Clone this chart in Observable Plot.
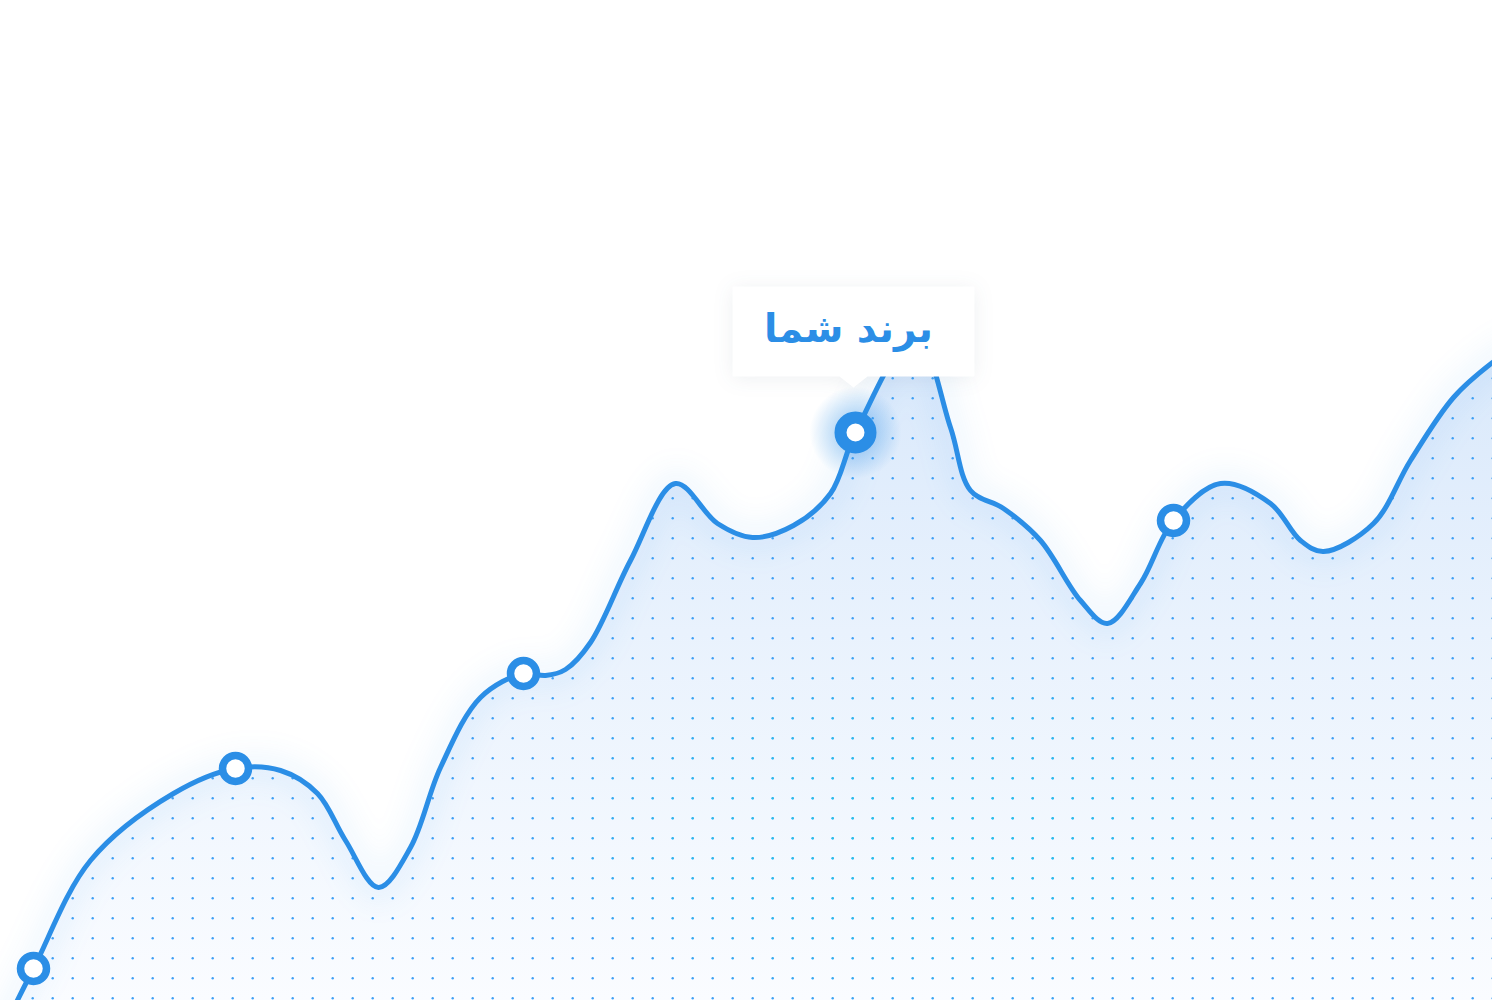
<!DOCTYPE html>
<html>
<head>
<meta charset="utf-8">
<script src="https://cdn.jsdelivr.net/npm/d3@7"></script>
<script src="https://cdn.jsdelivr.net/npm/@observablehq/plot@0.6"></script>
<style>
html, body { margin: 0; padding: 0; background: #ffffff; overflow: hidden; }
#chart svg { display: block; }
</style>
</head>
<body>
<div id="chart"></div>
<script>
// ---- data (x position, height value) ----
const curveX = [2, 33, 90, 173, 235, 280, 317, 345, 378, 410, 440, 480, 523, 545, 565, 590, 630, 675, 717, 752, 793, 830, 855, 915, 950, 970, 1003, 1040, 1080, 1107, 1140, 1173, 1220, 1270, 1300, 1323, 1373, 1410, 1453, 1492, 1510];
const curveY = [-30, 32, 140, 207, 232, 230, 207, 160, 113, 153, 233, 303, 327, 325, 331, 358, 440, 517, 477, 463, 475, 507, 568, 665, 573, 510, 492, 460, 400, 377, 417, 480, 517, 497, 460, 449, 477, 540, 603, 638, 650];
const markerX = [33, 235, 523, 1173];
const markerY = [32, 232, 327, 480];
const highlightX = [855];
const highlightY = [568];
const highlightLabel = ["برند شما"];

const BLUE = "#2b8ee6";

const curve = curveX.map((x, i) => ({x, y: curveY[i]}));
const markers = markerX.map((x, i) => ({x, y: markerY[i]}));
const highlight = highlightX.map((x, i) => ({x, y: highlightY[i], label: highlightLabel[i]}));

// callout box shape drawn relative to the highlighted point
const callout = {
  draw(ctx) {
    ctx.moveTo(-123, -146);
    ctx.lineTo(119, -146);
    ctx.lineTo(119, -56);
    ctx.lineTo(12, -56);
    ctx.lineTo(-2, -45);
    ctx.lineTo(-16, -56);
    ctx.lineTo(-123, -56);
    ctx.closePath();
  }
};

const chart = Plot.plot({
  width: 1492,
  height: 1000,
  margin: 0,
  x: {domain: [0, 1492], axis: null},
  y: {domain: [0, 1000], axis: null},
  style: {background: "#ffffff"},
  marks: [
    Plot.areaY(curve, {x: "x", y: "y", curve: "catmull-rom", fill: "url(#areaGrad)"}),
    Plot.areaY(curve, {x: "x", y: "y", curve: "catmull-rom", fill: "url(#dotsBlue)"}),
    Plot.areaY(curve, {x: "x", y: "y", curve: "catmull-rom", fill: "url(#dotsCyan)"}),
    Plot.line(curve, {x: "x", y: "y", curve: "catmull-rom", stroke: BLUE, strokeWidth: 34, strokeOpacity: 0.055}),
    Plot.line(curve, {x: "x", y: "y", curve: "catmull-rom", stroke: BLUE, strokeWidth: 5}),
    Plot.dot(markers, {x: "x", y: "y", r: 13, fill: "white", stroke: BLUE, strokeWidth: 7.5}),
    Plot.dot(highlight, {x: "x", y: "y", r: 46, fill: "url(#glowGrad)"}),
    Plot.dot(highlight, {x: "x", y: "y", r: 15, fill: "white", stroke: BLUE, strokeWidth: 12}),
    Plot.dot(highlight, {x: "x", y: "y", symbol: callout, fill: "white", stroke: "none"}),
    Plot.text(highlight, {x: "x", y: "y", text: "label", dy: -103, dx: -7, fontSize: 39, fontWeight: "bold", fill: BLUE, fontFamily: "DejaVu Sans"})
  ]
});

document.getElementById("chart").appendChild(chart);

// ---- defs: gradients & dot patterns ----
const svg = d3.select(chart);
const defs = svg.insert("defs", ":first-child");

const ag = defs.append("linearGradient").attr("id", "areaGrad")
  .attr("gradientUnits", "userSpaceOnUse").attr("x1", 0).attr("y1", 330).attr("x2", 0).attr("y2", 1000);
ag.append("stop").attr("offset", 0).attr("stop-color", "#d8e8fb");
ag.append("stop").attr("offset", 0.45).attr("stop-color", "#e9f2fd");
ag.append("stop").attr("offset", 1).attr("stop-color", "#fafcff");

const gg = defs.append("radialGradient").attr("id", "glowGrad");
gg.append("stop").attr("offset", 0).attr("stop-color", BLUE).attr("stop-opacity", 0.6);
gg.append("stop").attr("offset", 0.45).attr("stop-color", BLUE).attr("stop-opacity", 0.28);
gg.append("stop").attr("offset", 1).attr("stop-color", BLUE).attr("stop-opacity", 0);

function dotPattern(id, color) {
  const p = defs.append("pattern").attr("id", id)
    .attr("patternUnits", "userSpaceOnUse").attr("width", 20).attr("height", 20);
  p.append("circle").attr("cx", 12.7).attr("cy", 18.3).attr("r", 1.2).attr("fill", color);
}
dotPattern("dotsBlue", "#3f9ff5");
dotPattern("dotsCyan", "#22c6e8");

const mg = defs.append("radialGradient").attr("id", "cyanMaskGrad")
  .attr("gradientUnits", "userSpaceOnUse").attr("cx", 930).attr("cy", 830).attr("r", 420)
  .attr("gradientTransform", "translate(930 830) scale(1 0.45) translate(-930 -830)");
mg.append("stop").attr("offset", 0).attr("stop-color", "white").attr("stop-opacity", 1);
mg.append("stop").attr("offset", 0.6).attr("stop-color", "white").attr("stop-opacity", 0.6);
mg.append("stop").attr("offset", 1).attr("stop-color", "white").attr("stop-opacity", 0);
const mask = defs.append("mask").attr("id", "cyanMask").attr("maskUnits", "userSpaceOnUse")
  .attr("x", 0).attr("y", 0).attr("width", 1492).attr("height", 1000);
mask.append("rect").attr("width", 1492).attr("height", 1000).attr("fill", "url(#cyanMaskGrad)");

// ---- finishing styles ----
const areas = chart.querySelectorAll('g[aria-label="area"]');
if (areas[2]) areas[2].setAttribute("mask", "url(#cyanMask)");
const lines = chart.querySelectorAll('g[aria-label="line"]');
if (lines[0]) lines[0].style.filter = "blur(12px)";
const dots = chart.querySelectorAll('g[aria-label="dot"]');
if (dots[3]) dots[3].style.filter = "drop-shadow(0px 2px 10px rgba(40,60,90,0.08))";
</script>
</body>
</html>
